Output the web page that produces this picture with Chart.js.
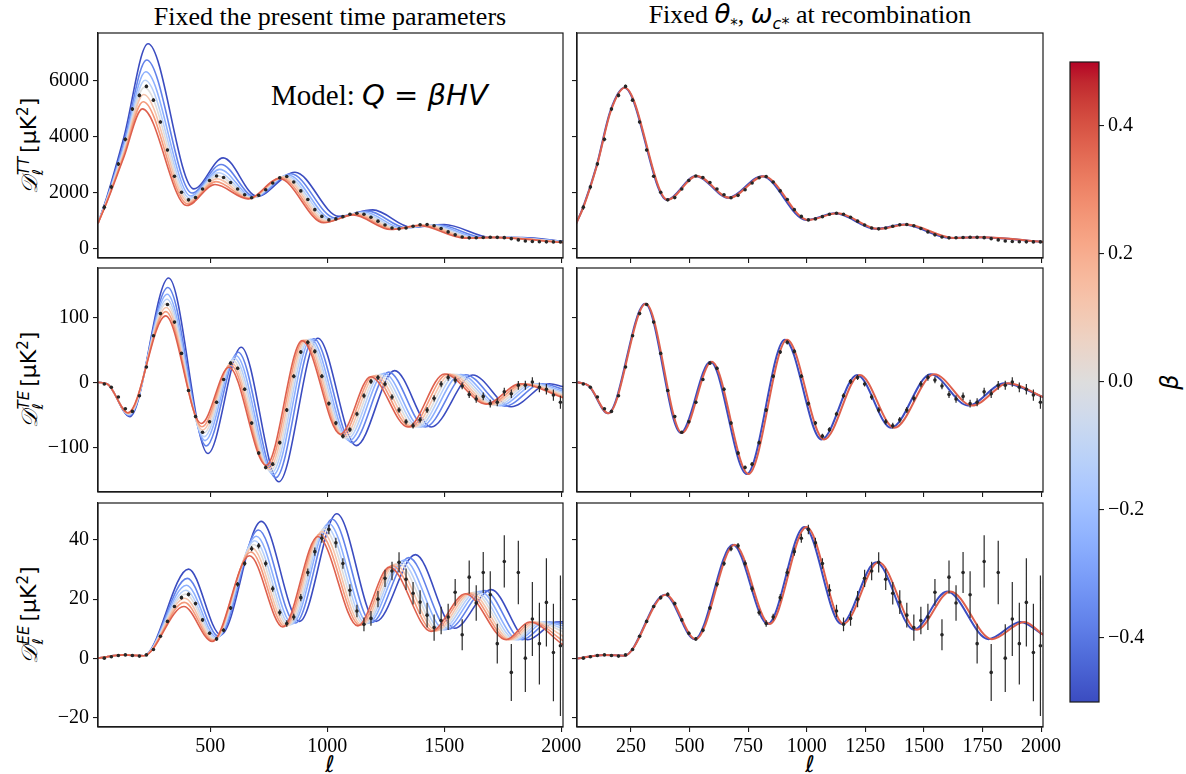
<!DOCTYPE html>
<html><head><meta charset="utf-8">
<script src="https://cdn.jsdelivr.net/npm/chart.js@4.4.0/dist/chart.umd.min.js"></script>
<style>
html,body{margin:0;padding:0;background:#fff;}
#root{position:relative;width:1186px;height:774px;overflow:hidden;background:#fff;}
canvas{position:absolute;}
.t{position:absolute;white-space:nowrap;color:#000;line-height:1;}
.serif{font-family:"Liberation Serif","Times New Roman",serif;}
.mi{font-family:"DejaVu Sans";font-style:italic;}
.mr{font-family:"DejaVu Sans";font-style:normal;}
.rot{transform:translate(-50%,-50%) rotate(-90deg);}
.ctr{transform:translate(-50%,-50%);}
.ss{display:inline-block;vertical-align:middle;line-height:0.95;font-size:15px;margin:0 4px 0 1px;}
.ss span{display:block;}
</style></head><body><div id="root">
<div class="t serif ctr" style="left:330px;top:17px;font-size:26px;">Fixed the present time parameters</div>
<div class="t serif ctr" style="left:810px;top:17px;font-size:26px;">Fixed <span class="mi">θ</span><sub class="mr" style="font-size:15px">*</sub>, <span class="mi">ω</span><sub style="font-size:16px"><span class="mi">c</span><span class="mr">*</span></sub> at recombination</div>
<div class="t" style="left:271px;top:81px;font-size:29px;"><span class="serif">Model: </span><span class="mi">Q</span><span class="mr"> = </span><span class="mi">βHV</span></div>
<div class="t rot" style="left:31px;top:146px;font-size:22px;"><span class="mi" style="font-family:'DejaVu Serif','DejaVu Sans';">𝒟</span><span class="ss mi"><span>TT</span><span>ℓ</span></span><span class="mr">[μK<sup style="font-size:15px">2</sup>]</span></div>
<div class="t rot" style="left:31px;top:380px;font-size:22px;"><span class="mi" style="font-family:'DejaVu Serif','DejaVu Sans';">𝒟</span><span class="ss mi"><span>TE</span><span>ℓ</span></span><span class="mr">[μK<sup style="font-size:15px">2</sup>]</span></div>
<div class="t rot" style="left:31px;top:615px;font-size:22px;"><span class="mi" style="font-family:'DejaVu Serif','DejaVu Sans';">𝒟</span><span class="ss mi"><span>EE</span><span>ℓ</span></span><span class="mr">[μK<sup style="font-size:15px">2</sup>]</span></div>
<div class="t mi ctr" style="left:330px;top:764px;font-size:23px;">ℓ</div>
<div class="t mi ctr" style="left:810px;top:764px;font-size:23px;">ℓ</div>
<div class="t mi rot" style="left:1170px;top:382px;font-size:24px;">β</div>
</div>
<script>
// ---------------- data ----------------
const BETAS = [-0.5, -0.375, -0.25, -0.125, 0, 0.125, 0.25, 0.375];
const BETAS_RIGHT = [-0.5, 0.375];
const X_RANGE = [20, 2008];
const TT_RANGE = [-336, 7697];
const TE_RANGE = [-167.7, 176];
const EE_RANGE = [-23.1, 52.4];
const TT_TICKS = [0, 2000, 4000, 6000];
const TE_TICKS = [-100, 0, 100];
const EE_TICKS = [-20, 0, 20, 40];
const X_TICKS_LEFT = [500, 1000, 1500, 2000];
const X_TICKS_RIGHT = [250, 500, 750, 1000, 1250, 1500, 1750, 2000];
const CBAR_TICKS = [-0.4, -0.2, 0, 0.2, 0.4];

// left column: one row per beta (blue -> red)
const TT_L = [
 [20,60,130,234,430,555,700,862,1050,1195,1360,1500,1700,1835,2008],
 [20,60,130,228,422,546,691,845,1034,1174,1338,1473,1672,1802,2008],
 [20,60,130,224,417,540,684,833,1022,1158,1322,1454,1652,1779,2008],
 [20,60,130,221,413,535,679,824,1014,1147,1311,1440,1637,1762,2008],
 [20,60,130,218,410,532,675,817,1006,1138,1301,1428,1625,1747,2008],
 [20,60,130,215,407,528,670,810,999,1129,1291,1416,1613,1733,2008],
 [20,60,130,213,403,524,666,802,992,1119,1282,1404,1600,1718,2008],
 [20,60,130,210,400,520,662,795,985,1110,1272,1392,1588,1704,2008]];
const TT_D = [
 [900,1900,3950,7311,2132,3239,1868,2726,1150,1382,761,860,400,390,260],
 [900,1850,3775,6731,1983,3001,1845,2670,1093,1337,741,852,394,393,249],
 [900,1814,3649,6313,1876,2829,1828,2629,1051,1305,726,847,389,394,241],
 [900,1788,3558,6011,1798,2705,1815,2599,1021,1281,716,843,386,396,235],
 [900,1766,3481,5755,1733,2600,1805,2575,996,1261,707,840,383,397,230],
 [900,1744,3404,5500,1667,2496,1795,2550,971,1242,698,837,381,398,225],
 [900,1722,3327,5244,1602,2391,1784,2525,945,1222,689,833,378,399,220],
 [900,1700,3250,4989,1536,2286,1774,2500,920,1202,680,830,375,400,215]];
const TE_L = [
 [20,60,156,322,490,632,793,960,1124,1288,1444,1622,1786,1950,2008],
 [20,60,155,319,483,619,780,943,1107,1263,1419,1592,1760,1919,2008],
 [20,60,154,316,478,610,770,931,1095,1244,1401,1570,1740,1896,2008],
 [20,60,153,315,474,603,763,922,1086,1231,1389,1554,1727,1880,2008],
 [20,60,152,313,471,597,757,915,1078,1220,1378,1541,1715,1866,2008],
 [20,60,151,312,468,591,751,908,1071,1208,1367,1528,1703,1853,2008],
 [20,60,149,310,465,586,745,900,1063,1197,1356,1514,1692,1839,2008],
 [20,60,148,309,462,580,739,893,1056,1186,1345,1501,1680,1825,2008]];
const TE_D = [
 [0.5,-2,-52,160.6,-108.6,54.5,-152,68.3,-96.5,18.5,-68,11.8,-37,-1.5,-6],
 [0.5,-2,-50.5,146,-97.1,46.8,-145.7,67.4,-92.1,16.2,-68,12.2,-36,-1.5,-10],
 [0.5,-2,-49.4,135.7,-88.8,41.3,-141.1,66.7,-89,14.5,-68,12.5,-35.2,-1.5,-13],
 [0.5,-2,-48.6,128.1,-82.8,37.3,-137.8,66.2,-86.7,13.3,-68,12.7,-34.6,-1.5,-15],
 [0.5,-2,-48,121.7,-77.7,33.9,-135,65.8,-84.8,12.3,-68,12.9,-34.2,-1.5,-18],
 [0.5,-2,-47.3,115.4,-72.6,30.5,-132.2,65.4,-82.9,11.2,-68,13,-33.7,-1.5,-20],
 [0.5,-2,-46.7,109,-67.6,27.1,-129.4,65,-80.9,10.2,-68,13.2,-33.3,-1.5,-22],
 [0.5,-2,-46,102.6,-62.5,23.7,-126.6,64.6,-79,9.2,-68,13.4,-32.8,-1.5,-23]];
const EE_L = [
 [20,130,215,407,545,718,882,1041,1209,1377,1544,1701,1857,1978,2008],
 [20,130,215,402,536,706,864,1021,1190,1349,1519,1674,1834,1950,2008],
 [20,130,215,398,529,697,851,1006,1175,1329,1501,1654,1817,1929,2008],
 [20,130,215,396,524,690,842,996,1165,1315,1488,1639,1805,1915,2008],
 [20,130,215,394,520,685,834,987,1157,1303,1477,1627,1795,1902,2008],
 [20,130,215,391,516,679,826,978,1148,1290,1466,1615,1785,1890,2008],
 [20,130,215,389,512,674,818,969,1140,1278,1455,1603,1775,1877,2008],
 [20,130,215,387,508,668,810,960,1131,1266,1444,1591,1765,1865,2008]];
const EE_D = [
 [0.1,1.2,0.9,30.1,8,46.2,12.5,48.8,12.5,35,10.2,23.2,6.3,12.3,12.4],
 [0.1,1.2,0.9,27,7.4,43.3,12,46.9,12.1,34,9.9,22.9,6.3,12.3,11.8],
 [0.1,1.2,0.9,24.7,7,41.2,11.7,45.5,11.9,33.2,9.7,22.6,6.3,12.3,11],
 [0.1,1.2,0.9,23,6.7,39.7,11.4,44.5,11.7,32.6,9.6,22.4,6.3,12.3,10],
 [0.1,1.2,0.9,21.7,6.5,38.4,11.2,43.6,11.5,32.2,9.5,22.3,6.3,12.3,9],
 [0.1,1.2,0.9,20.3,6.2,37.2,11,42.8,11.3,31.7,9.3,22.1,6.3,12.3,7.5],
 [0.1,1.2,0.9,18.9,6,35.9,10.8,41.9,11.2,31.3,9.2,22,6.3,12.3,6],
 [0.1,1.2,0.9,17.5,5.7,34.6,10.6,41.1,11,30.8,9.1,21.8,6.3,12.3,4.6]];

// right column: blue (beta=-0.5) and red (beta=0.375) curves, key points
const R_TT_L_BLUE = [17,46,104,162,222,404,527,666,809,998,1122,1294,1415,1612,1733,2008];
const R_TT_L_RED  = [17,47,105,164,224,407,531,671,816,1006,1131,1305,1427,1626,1748,2008];
const R_TT_D      = [904,1475,2964,4904,5739,1739,2596,1811,2582,1025,1261,704,857,382,404,239];
const R_TE_L_BLUE = [22,71,152,311,463,589,744,907,1063,1215,1360,1529,1688,1843,2008];
const R_TE_L_RED  = [22,72,154,314,468,595,752,916,1074,1227,1374,1544,1705,1861,2008];
const R_TE_D      = [0.6,-5,-47,121,-77,32,-140,66,-87,12,-69,13,-35,-1,-22];
const R_EE_L_BLUE = [22,136,221,395,522,685,834,990,1147,1296,1457,1599,1775,1912,2008];
const R_EE_L_RED  = [22,136,221,399,527,692,842,999,1157,1307,1470,1613,1790,1929,2008];
const R_EE_D      = [0,1.2,0.9,21.5,6.5,38.3,11.6,44.3,11.7,32.4,9.7,22.6,6.5,12.3,8];

// binned measurements
const DATA_L = [47,77,107,137,167,197,227,257,287,317,347,377,407,437,467,497,527,557,587,617,647,677,707,737,767,797,827,857,887,917,947,977,1007,1037,1067,1097,1127,1157,1187,1217,1247,1277,1307,1337,1367,1397,1427,1457,1487,1517,1547,1577,1607,1637,1667,1697,1727,1757,1787,1817,1847,1877,1907,1937,1967,1997];
const DATA_TT = [1475,2200,3020,3900,4980,5470,5790,5300,4520,3520,2580,2010,1740,1820,2130,2430,2590,2540,2360,2130,1920,1815,1900,2100,2340,2530,2575,2380,2060,1750,1390,1150,1025,1060,1140,1225,1262,1225,1120,980,840,735,705,735,800,850,858,815,715,595,490,415,383,385,395,404,402,390,355,310,272,255,246,240,238,238];
const ERR_TT = [90,80,75,70,70,65,60,55,50,45,40,38,36,34,32,30,30,30,30,30,28,28,28,28,28,28,28,28,28,28,26,26,26,26,26,26,26,26,26,26,25,25,25,25,25,25,25,25,25,25,25,25,25,25,26,26,26,27,27,28,28,29,30,31,32,34];
const DATA_TE = [-2,-7,-22,-40,-44,-20,24,72,106,120,93,45,-12,-52,-76,-60,-30,5,30,22,-10,-62,-108,-130,-125,-92,-42,10,47,62,48,10,-32,-62,-82,-72,-48,-20,2,8,-2,-22,-42,-60,-66,-57,-42,-24,-2,8,4,-5,-18,-25,-21,-32,-30,-14,-17,-4,-4,1,-7,-10,-19,-30];
const ERR_TE = [1,1,1,1,1,1,1.2,1.3,1.4,1.5,1.6,1.7,1.8,1.9,2,2.1,2.2,2.3,2.4,2.5,2.5,2.6,2.7,2.8,2.9,3,3,3,3.1,3.2,3.2,3.3,3.3,3.4,3.5,3.5,3.6,3.7,3.8,3.9,4,4.1,4.2,4.3,4.4,4.5,4.6,4.7,4.8,4.9,5,5.2,5.4,5.6,5.8,6,6.2,6.4,6.6,6.8,7,7.2,7.5,8,8.5,10];
const DATA_EE = [0.1,0.6,1.0,1.2,1.0,0.8,1.2,3.0,7.5,12.5,17.5,20.5,21.6,18.5,13,8.5,6.6,9.5,17,25,32,37,38,32,23.5,15.5,11.8,14,20.5,29,36,40.5,43.5,39,32,23,16,11.5,13.5,20,27,29.5,32.4,26.7,22,19,14.6,10.4,12.8,14,22.3,8,27.4,18.7,29,21.5,5,32.7,-4.7,29,0.1,13.3,5,18.9,2,4.3];
const ERR_EE = [0.3,0.3,0.3,0.3,0.3,0.3,0.3,0.4,0.4,0.5,0.5,0.6,0.6,0.6,0.6,0.6,0.6,0.7,0.7,0.8,0.8,0.9,0.9,1,1,1,1.1,1.1,1.2,1.3,1.4,1.5,1.6,1.7,1.8,2,2.1,2.3,2.5,2.7,2.9,3.1,3.4,3.6,3.8,4,4.2,4.4,4.6,4.4,4.5,5.2,5.6,6,6.9,7.9,6.7,8.8,9.6,10.7,11.4,12.5,13.8,14.9,16.4,23.7];

// ---------------- styling ----------------
const COOLWARM = [[59,76,192],[68,90,204],[77,104,215],[87,117,225],[98,130,234],[108,142,241],[119,154,247],[130,165,251],[141,176,254],[152,185,255],[163,194,255],[174,201,253],[184,208,249],[194,213,244],[204,217,238],[213,219,230],[221,221,221],[229,216,209],[236,211,197],[241,204,184],[245,196,172],[247,187,160],[247,177,148],[247,166,135],[244,154,123],[241,141,111],[236,127,99],[229,112,88],[222,96,77],[213,80,66],[203,62,56],[192,40,47],[180,4,38]];
function cw(t){
  t=Math.max(0,Math.min(1,t)); const n=COOLWARM.length-1; const x=t*n;
  const i=Math.min(Math.floor(x),n-1); const f=x-i; const a=COOLWARM[i], b=COOLWARM[i+1];
  return 'rgb('+[0,1,2].map(j=>Math.round(a[j]+(b[j]-a[j])*f)).join(',')+')';
}
const root=document.getElementById('root');
const COLS=[{L:98,R:563},{L:577,R:1043}];
const ROWS=[{T:33,B:258},{T:268,B:492},{T:503,B:727}];
const FRAME='#1a1a1a';
const TICK_FONT={family:'"Liberation Serif","Times New Roman",serif',size:20};
const fmt=v=>String(v).replace('-','\u2212');

const framePlugin={id:'frame',afterDatasetsDraw(chart){const a=chart.chartArea,ctx=chart.ctx;ctx.save();ctx.strokeStyle=FRAME;ctx.lineWidth=1.2;ctx.strokeRect(a.left,a.top,a.right-a.left,a.bottom-a.top);ctx.restore();}};

function curveSets(Ls,Ds,betas,lw){
  return Ls.map((L,k)=>({data:L.map((l,i)=>({x:l,y:Ds[k][i]})),borderColor:cw(betas[k]+0.5),borderWidth:lw,
    pointRadius:0,cubicInterpolationMode:'monotone',fill:false,order:20-k}));
}
function dataSets(vals,errs){
  const pts=DATA_L.map((l,i)=>({x:l,y:vals[i]}));
  const bars=[];DATA_L.forEach((l,i)=>{bars.push({x:l,y:vals[i]-errs[i]},{x:l,y:vals[i]+errs[i]},{x:l,y:null});});
  return [{data:bars,borderColor:'#2a2a2a',borderWidth:1.2,pointRadius:0,spanGaps:false,order:2},
          {data:pts,showLine:false,pointRadius:1.8,pointBackgroundColor:'#262626',borderColor:'#262626',pointBorderWidth:0,order:1}];
}
function panel(col,row,o){
  const pl=100,pr=40,pt=12,pb=42;
  const W=(col.R-col.L)+pl+pr,H=(row.B-row.T)+pt+pb;
  const c=document.createElement('canvas');c.width=W;c.height=H;
  Object.assign(c.style,{left:(col.L-pl)+'px',top:(row.T-pt)+'px',width:W+'px',height:H+'px'});
  root.appendChild(c);
  const grid={drawOnChartArea:false,drawTicks:true,tickLength:5,color:FRAME,lineWidth:1.1};
  new Chart(c,{type:'line',data:{datasets:o.datasets},options:{
    responsive:false,animation:false,devicePixelRatio:1,events:[],
    layout:{padding:{left:0,right:pr,top:pt,bottom:0}},
    plugins:{legend:{display:false},tooltip:{enabled:false}},
    scales:{
      x:{type:'linear',min:X_RANGE[0],max:X_RANGE[1],
        afterBuildTicks:s=>{s.ticks=o.xticks.map(v=>({value:v}));},
        afterFit:s=>{s.height=pb;s.paddingLeft=0;s.paddingRight=0;},
        ticks:{display:o.showX,autoSkip:false,maxRotation:0,color:'#000',font:TICK_FONT,padding:3,callback:v=>fmt(v)},
        grid:grid,border:{display:true,color:FRAME,width:1.2}},
      y:{type:'linear',min:o.range[0],max:o.range[1],
        afterBuildTicks:s=>{s.ticks=o.yticks.map(v=>({value:v}));},
        afterFit:s=>{s.width=pl;s.paddingTop=0;s.paddingBottom=0;},
        ticks:{display:o.showY,color:'#000',font:TICK_FONT,padding:4,callback:v=>fmt(v)},
        grid:grid,border:{display:true,color:FRAME,width:1.2}}
    }},plugins:[framePlugin]});
}
const specs=[
  {range:TT_RANGE,yticks:TT_TICKS,data:DATA_TT,err:ERR_TT,L:TT_L,D:TT_D,RLb:R_TT_L_BLUE,RLr:R_TT_L_RED,RD:R_TT_D},
  {range:TE_RANGE,yticks:TE_TICKS,data:DATA_TE,err:ERR_TE,L:TE_L,D:TE_D,RLb:R_TE_L_BLUE,RLr:R_TE_L_RED,RD:R_TE_D},
  {range:EE_RANGE,yticks:EE_TICKS,data:DATA_EE,err:ERR_EE,L:EE_L,D:EE_D,RLb:R_EE_L_BLUE,RLr:R_EE_L_RED,RD:R_EE_D}];
specs.forEach((s,r)=>{
  const last=(r===2);
  panel(COLS[0],ROWS[r],{range:s.range,yticks:s.yticks,xticks:X_TICKS_LEFT,showX:last,showY:true,
    datasets:[...dataSets(s.data,s.err),...curveSets(s.L,s.D,BETAS,1.6)]});
  panel(COLS[1],ROWS[r],{range:s.range,yticks:s.yticks,xticks:X_TICKS_RIGHT,showX:last,showY:false,
    datasets:[...dataSets(s.data,s.err),...curveSets([s.RLb,s.RLr],[s.RD,s.RD],BETAS_RIGHT,2)]});
});

// colorbar
(function(){
  const padL=10,barW=29,axW=70,pt=10,pb=10,barH=640;
  const W=padL+barW+axW,H=pt+barH+pb;
  const c=document.createElement('canvas');c.width=W;c.height=H;
  Object.assign(c.style,{left:(1070-padL)+'px',top:(62-pt)+'px',width:W+'px',height:H+'px'});
  root.appendChild(c);
  const grad={id:'grad',afterDatasetsDraw(chart){const a=chart.chartArea,ctx=chart.ctx;
    const g=ctx.createLinearGradient(0,a.bottom,0,a.top);
    COOLWARM.forEach((col,i)=>g.addColorStop(i/(COOLWARM.length-1),'rgb('+col.join(',')+')'));
    ctx.save();ctx.fillStyle=g;ctx.fillRect(a.left,a.top,a.right-a.left,a.bottom-a.top);ctx.restore();}};
  new Chart(c,{type:'line',data:{datasets:[]},options:{
    responsive:false,animation:false,devicePixelRatio:1,events:[],
    layout:{padding:{left:padL,right:0,top:pt,bottom:pb}},
    plugins:{legend:{display:false},tooltip:{enabled:false}},
    scales:{x:{type:'linear',display:false,min:0,max:1},
      y:{type:'linear',position:'right',min:-0.5,max:0.5,
        afterBuildTicks:s=>{s.ticks=CBAR_TICKS.map(v=>({value:v}));},
        afterFit:s=>{s.width=axW;s.paddingTop=0;s.paddingBottom=0;},
        ticks:{color:'#000',font:TICK_FONT,padding:4,callback:v=>fmt(v.toFixed(1))},
        grid:{drawOnChartArea:false,drawTicks:true,tickLength:5,color:FRAME,lineWidth:1.1},
        border:{display:false}}}},plugins:[grad,framePlugin]});
})();
</script></body></html>
